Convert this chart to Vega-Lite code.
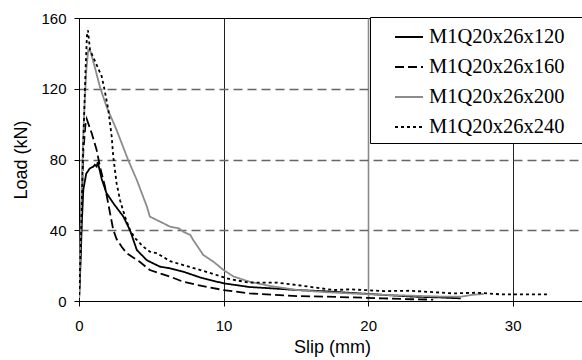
{
  "$schema": "https://vega.github.io/schema/vega-lite/v6.json",
  "autosize": "none",
  "width": 506,
  "height": 283,
  "padding": {"left": 79, "top": 18, "right": 0, "bottom": 59},
  "background": "white",
  "config": {
    "view": {"stroke": "black", "strokeWidth": 1},
    "font": "Liberation Sans"
  },
  "datasets": {
    "curves": [
      {"specimen": "M1Q20x26x120", "slip": 0, "load": 0},
      {"specimen": "M1Q20x26x120", "slip": 0.1, "load": 20},
      {"specimen": "M1Q20x26x120", "slip": 0.2, "load": 45},
      {"specimen": "M1Q20x26x120", "slip": 0.3, "load": 63},
      {"specimen": "M1Q20x26x120", "slip": 0.5, "load": 72},
      {"specimen": "M1Q20x26x120", "slip": 0.75, "load": 75},
      {"specimen": "M1Q20x26x120", "slip": 1.0, "load": 76},
      {"specimen": "M1Q20x26x120", "slip": 1.1, "load": 77},
      {"specimen": "M1Q20x26x120", "slip": 1.22, "load": 76},
      {"specimen": "M1Q20x26x120", "slip": 1.3, "load": 78.5},
      {"specimen": "M1Q20x26x120", "slip": 1.57, "load": 69},
      {"specimen": "M1Q20x26x120", "slip": 1.9, "load": 61},
      {"specimen": "M1Q20x26x120", "slip": 2.4, "load": 55},
      {"specimen": "M1Q20x26x120", "slip": 3.07, "load": 47.7},
      {"specimen": "M1Q20x26x120", "slip": 3.53, "load": 40},
      {"specimen": "M1Q20x26x120", "slip": 4.0, "load": 28.8},
      {"specimen": "M1Q20x26x120", "slip": 4.7, "load": 23},
      {"specimen": "M1Q20x26x120", "slip": 5.6, "load": 19.4},
      {"specimen": "M1Q20x26x120", "slip": 6.3, "load": 18.5},
      {"specimen": "M1Q20x26x120", "slip": 7.2, "load": 16.6},
      {"specimen": "M1Q20x26x120", "slip": 8.5, "load": 13},
      {"specimen": "M1Q20x26x120", "slip": 10, "load": 10},
      {"specimen": "M1Q20x26x120", "slip": 11.8, "load": 7.9},
      {"specimen": "M1Q20x26x120", "slip": 13.2, "load": 7.2},
      {"specimen": "M1Q20x26x120", "slip": 15.1, "load": 6.2},
      {"specimen": "M1Q20x26x120", "slip": 17, "load": 5.5},
      {"specimen": "M1Q20x26x120", "slip": 19, "load": 4.5},
      {"specimen": "M1Q20x26x120", "slip": 21, "load": 3.5},
      {"specimen": "M1Q20x26x120", "slip": 23, "load": 2.5},
      {"specimen": "M1Q20x26x120", "slip": 25, "load": 2},
      {"specimen": "M1Q20x26x120", "slip": 26.4, "load": 1.5},

      {"specimen": "M1Q20x26x160", "slip": 0, "load": 0},
      {"specimen": "M1Q20x26x160", "slip": 0.1, "load": 30},
      {"specimen": "M1Q20x26x160", "slip": 0.2, "load": 60},
      {"specimen": "M1Q20x26x160", "slip": 0.3, "load": 85},
      {"specimen": "M1Q20x26x160", "slip": 0.45, "load": 100},
      {"specimen": "M1Q20x26x160", "slip": 0.53, "load": 103},
      {"specimen": "M1Q20x26x160", "slip": 0.7, "load": 99},
      {"specimen": "M1Q20x26x160", "slip": 0.88, "load": 94.8},
      {"specimen": "M1Q20x26x160", "slip": 1.22, "load": 85.4},
      {"specimen": "M1Q20x26x160", "slip": 1.45, "load": 76},
      {"specimen": "M1Q20x26x160", "slip": 1.8, "load": 64.6},
      {"specimen": "M1Q20x26x160", "slip": 2.15, "load": 49.6},
      {"specimen": "M1Q20x26x160", "slip": 2.37, "load": 40.2},
      {"specimen": "M1Q20x26x160", "slip": 2.6, "load": 35},
      {"specimen": "M1Q20x26x160", "slip": 2.95, "load": 30.7},
      {"specimen": "M1Q20x26x160", "slip": 3.3, "load": 27},
      {"specimen": "M1Q20x26x160", "slip": 4.2, "load": 22.2},
      {"specimen": "M1Q20x26x160", "slip": 4.9, "load": 17.5},
      {"specimen": "M1Q20x26x160", "slip": 6.3, "load": 13.8},
      {"specimen": "M1Q20x26x160", "slip": 7.2, "load": 10.9},
      {"specimen": "M1Q20x26x160", "slip": 8.5, "load": 8.5},
      {"specimen": "M1Q20x26x160", "slip": 10, "load": 6.2},
      {"specimen": "M1Q20x26x160", "slip": 11.8, "load": 4.3},
      {"specimen": "M1Q20x26x160", "slip": 13.5, "load": 3.5},
      {"specimen": "M1Q20x26x160", "slip": 15.1, "load": 2.8},
      {"specimen": "M1Q20x26x160", "slip": 17, "load": 2.5},
      {"specimen": "M1Q20x26x160", "slip": 19, "load": 2},
      {"specimen": "M1Q20x26x160", "slip": 21, "load": 1.5},
      {"specimen": "M1Q20x26x160", "slip": 23, "load": 1},
      {"specimen": "M1Q20x26x160", "slip": 24.5, "load": 0.8},

      {"specimen": "M1Q20x26x200", "slip": 0, "load": 0},
      {"specimen": "M1Q20x26x200", "slip": 0.1, "load": 35},
      {"specimen": "M1Q20x26x200", "slip": 0.2, "load": 70},
      {"specimen": "M1Q20x26x200", "slip": 0.35, "load": 105},
      {"specimen": "M1Q20x26x200", "slip": 0.5, "load": 130},
      {"specimen": "M1Q20x26x200", "slip": 0.64, "load": 142},
      {"specimen": "M1Q20x26x200", "slip": 0.8, "load": 141},
      {"specimen": "M1Q20x26x200", "slip": 1.1, "load": 132},
      {"specimen": "M1Q20x26x200", "slip": 1.45, "load": 121},
      {"specimen": "M1Q20x26x200", "slip": 1.9, "load": 110},
      {"specimen": "M1Q20x26x200", "slip": 2.6, "load": 96.7},
      {"specimen": "M1Q20x26x200", "slip": 3.4, "load": 79.7},
      {"specimen": "M1Q20x26x200", "slip": 4.0, "load": 68.4},
      {"specimen": "M1Q20x26x200", "slip": 4.7, "load": 53.3},
      {"specimen": "M1Q20x26x200", "slip": 4.9, "load": 47.7},
      {"specimen": "M1Q20x26x200", "slip": 5.6, "load": 44.9},
      {"specimen": "M1Q20x26x200", "slip": 6.3, "load": 42},
      {"specimen": "M1Q20x26x200", "slip": 6.9, "load": 41.1},
      {"specimen": "M1Q20x26x200", "slip": 7.2, "load": 39.2},
      {"specimen": "M1Q20x26x200", "slip": 7.7, "load": 37.3},
      {"specimen": "M1Q20x26x200", "slip": 7.9, "load": 34.5},
      {"specimen": "M1Q20x26x200", "slip": 8.6, "load": 26},
      {"specimen": "M1Q20x26x200", "slip": 9.3, "load": 22.2},
      {"specimen": "M1Q20x26x200", "slip": 10, "load": 17.5},
      {"specimen": "M1Q20x26x200", "slip": 10.7, "load": 13.8},
      {"specimen": "M1Q20x26x200", "slip": 11.8, "load": 10.9},
      {"specimen": "M1Q20x26x200", "slip": 13.2, "load": 8.5},
      {"specimen": "M1Q20x26x200", "slip": 15.1, "load": 6.2},
      {"specimen": "M1Q20x26x200", "slip": 17, "load": 5},
      {"specimen": "M1Q20x26x200", "slip": 19, "load": 4.2},
      {"specimen": "M1Q20x26x200", "slip": 21, "load": 3.5},
      {"specimen": "M1Q20x26x200", "slip": 23, "load": 3},
      {"specimen": "M1Q20x26x200", "slip": 25, "load": 2.5},
      {"specimen": "M1Q20x26x200", "slip": 26.4, "load": 2.4},
      {"specimen": "M1Q20x26x200", "slip": 27.2, "load": 3.5},
      {"specimen": "M1Q20x26x200", "slip": 28, "load": 4},

      {"specimen": "M1Q20x26x240", "slip": 0, "load": 0},
      {"specimen": "M1Q20x26x240", "slip": 0.15, "load": 40},
      {"specimen": "M1Q20x26x240", "slip": 0.3, "load": 90},
      {"specimen": "M1Q20x26x240", "slip": 0.45, "load": 130},
      {"specimen": "M1Q20x26x240", "slip": 0.55, "load": 150},
      {"specimen": "M1Q20x26x240", "slip": 0.62, "load": 153},
      {"specimen": "M1Q20x26x240", "slip": 0.76, "load": 142},
      {"specimen": "M1Q20x26x240", "slip": 1.22, "load": 133.5},
      {"specimen": "M1Q20x26x240", "slip": 1.57, "load": 127},
      {"specimen": "M1Q20x26x240", "slip": 1.8, "load": 118},
      {"specimen": "M1Q20x26x240", "slip": 2.03, "load": 108},
      {"specimen": "M1Q20x26x240", "slip": 2.26, "load": 93},
      {"specimen": "M1Q20x26x240", "slip": 2.37, "load": 81.6},
      {"specimen": "M1Q20x26x240", "slip": 2.6, "load": 66.6},
      {"specimen": "M1Q20x26x240", "slip": 2.84, "load": 57},
      {"specimen": "M1Q20x26x240", "slip": 3.18, "load": 47.7},
      {"specimen": "M1Q20x26x240", "slip": 3.53, "load": 40},
      {"specimen": "M1Q20x26x240", "slip": 3.88, "load": 35.5},
      {"specimen": "M1Q20x26x240", "slip": 4.45, "load": 30.7},
      {"specimen": "M1Q20x26x240", "slip": 4.9, "load": 27.9},
      {"specimen": "M1Q20x26x240", "slip": 5.4, "load": 27},
      {"specimen": "M1Q20x26x240", "slip": 6.3, "load": 22.5},
      {"specimen": "M1Q20x26x240", "slip": 8.4, "load": 17.5},
      {"specimen": "M1Q20x26x240", "slip": 10.45, "load": 12.3},
      {"specimen": "M1Q20x26x240", "slip": 11.8, "load": 10.4},
      {"specimen": "M1Q20x26x240", "slip": 13.7, "load": 10.4},
      {"specimen": "M1Q20x26x240", "slip": 15.1, "load": 9},
      {"specimen": "M1Q20x26x240", "slip": 17.6, "load": 6.2},
      {"specimen": "M1Q20x26x240", "slip": 18.75, "load": 6.6},
      {"specimen": "M1Q20x26x240", "slip": 21.1, "load": 5.6},
      {"specimen": "M1Q20x26x240", "slip": 22.9, "load": 5.8},
      {"specimen": "M1Q20x26x240", "slip": 25.9, "load": 4.3},
      {"specimen": "M1Q20x26x240", "slip": 27.5, "load": 4.7},
      {"specimen": "M1Q20x26x240", "slip": 29.1, "load": 3.8},
      {"specimen": "M1Q20x26x240", "slip": 32.4, "load": 3.8}
    ]
  },
  "data": {"name": "curves"},
  "mark": {"type": "line", "clip": true},
  "encoding": {
    "x": {
      "field": "slip",
      "type": "quantitative",
      "scale": {"domain": [0, 35], "nice": false, "zero": true},
      "axis": {
        "title": "Slip (mm)",
        "values": [0, 10, 20, 30],
        "grid": true,
        "gridColor": {"condition": {"test": "datum.value == 20", "value": "#8a8a8a"}, "value": "#222222"},
        "gridWidth": {"condition": {"test": "datum.value == 20", "value": 1.6}, "value": 1},
        "gridOpacity": {"condition": {"test": "datum.value == 0", "value": 0}, "value": 1},
        "domainColor": "black",
        "tickColor": "black",
        "tickSize": 5,
        "labelFont": "Liberation Sans",
        "labelFontSize": 15,
        "labelColor": "black",
        "labelPadding": 12,
        "labelFlush": false,
        "titleFont": "Liberation Sans",
        "titleFontSize": 18,
        "titleFontWeight": "normal",
        "titleColor": "black",
        "titlePadding": 5
      }
    },
    "y": {
      "field": "load",
      "type": "quantitative",
      "scale": {"domain": [0, 160], "nice": false},
      "axis": {
        "title": "Load (kN)",
        "values": [0, 40, 80, 120, 160],
        "grid": true,
        "gridColor": "#666666",
        "gridDash": [9, 5],
        "gridWidth": 1.5,
        "gridOpacity": {"condition": {"test": "datum.value == 0 || datum.value == 160", "value": 0}, "value": 1},
        "domainColor": "black",
        "tickColor": "black",
        "tickSize": 5,
        "labelFont": "Liberation Sans",
        "labelFontSize": 15,
        "labelColor": "black",
        "labelPadding": 8,
        "titleFont": "Liberation Sans",
        "titleFontSize": 18,
        "titleFontWeight": "normal",
        "titleColor": "black",
        "titlePadding": 10
      }
    },
    "color": {
      "field": "specimen",
      "type": "nominal",
      "scale": {
        "domain": ["M1Q20x26x120", "M1Q20x26x160", "M1Q20x26x200", "M1Q20x26x240"],
        "range": ["#000000", "#000000", "#8c8c8c", "#000000"]
      },
      "legend": {
        "title": null,
        "orient": "none",
        "legendX": 291,
        "legendY": -1,
        "symbolType": "stroke",
        "symbolSize": 784,
        "symbolStrokeWidth": 1.8,
        "symbolOffset": 19,
        "labelOffset": 5,
        "labelFont": "Liberation Serif",
        "labelFontSize": 20.5,
        "labelColor": "black",
        "labelLimit": 300,
        "labelExpr": "datum.label + '\u2800'",
        "padding": 5,
        "rowPadding": 4,
        "strokeColor": "black",
        "fillColor": "white"
      }
    },
    "strokeDash": {
      "field": "specimen",
      "type": "nominal",
      "scale": {
        "domain": ["M1Q20x26x120", "M1Q20x26x160", "M1Q20x26x200", "M1Q20x26x240"],
        "range": [[1, 0], [9, 4], [1, 0], [3, 3]]
      }
    },
    "strokeWidth": {
      "field": "specimen",
      "type": "nominal",
      "scale": {
        "domain": ["M1Q20x26x120", "M1Q20x26x160", "M1Q20x26x200", "M1Q20x26x240"],
        "range": [1.8, 1.8, 1.1, 1.8]
      },
      "legend": null
    }
  }
}
